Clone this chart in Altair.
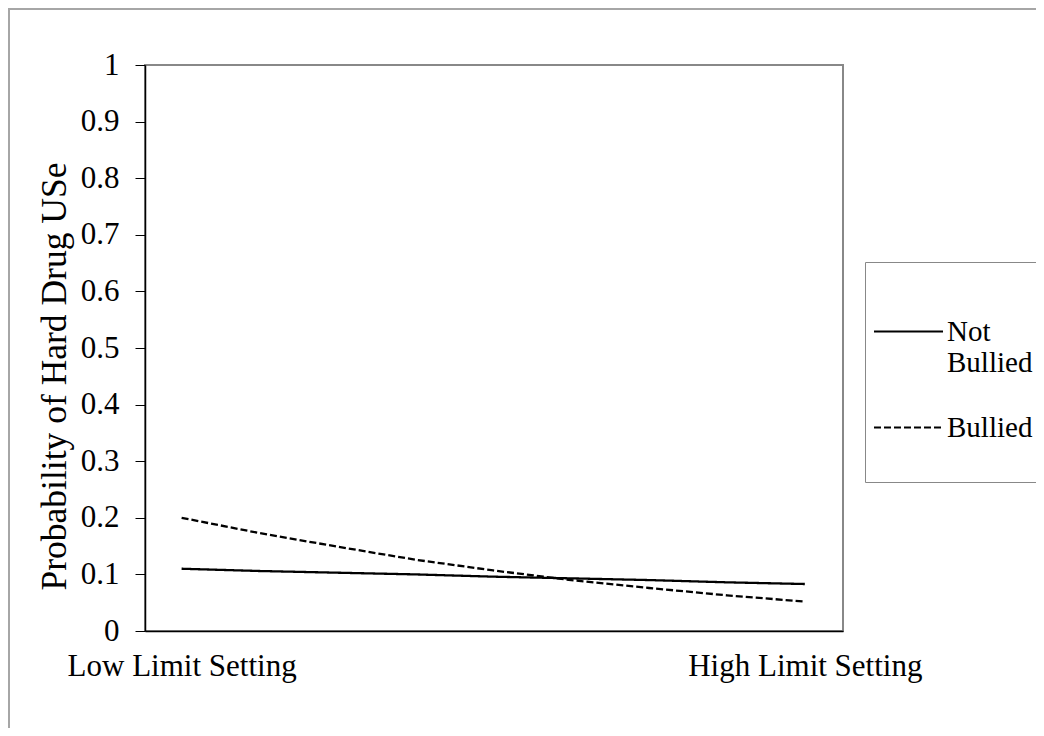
import altair as alt
import pandas as pd

# ---- data ----
steps = [0, 1, 2, 3, 4, 5, 6, 7, 8]
not_bullied = [0.110, 0.106, 0.103, 0.100, 0.096, 0.093, 0.090, 0.086, 0.083]
bullied = [0.200, 0.173, 0.149, 0.126, 0.107, 0.090, 0.076, 0.063, 0.052]
series_names = ["Not Bullied", "Bullied"]
x_labels = ["Low Limit Setting", "High Limit Setting"]
y_ticks = [0, 0.1, 0.2, 0.3, 0.4, 0.5, 0.6, 0.7, 0.8, 0.9, 1]
y_title = "Probability of Hard Drug USe"

rows = []
for name, vals in zip(series_names, [not_bullied, bullied]):
    for s, v in zip(steps, vals):
        rows.append({"step": s, "prob": v, "group": name})
df = pd.DataFrame(rows)

FONT = "Liberation Serif"
W, H = 698, 566

label_expr = (
    f"datum.value == {steps[0]} ? '{x_labels[0]}' : '{x_labels[1]}'"
)

lines = alt.Chart(df).mark_line(color="black", strokeWidth=2.3).encode(
    x=alt.X(
        "step:Q",
        scale=alt.Scale(domain=[-0.47, 8.49], nice=False, zero=False),
        axis=alt.Axis(
            values=[steps[0], steps[-1]],
            labelExpr=label_expr,
            title=None,
            ticks=False,
            grid=False,
            domainColor="black",
            domainWidth=1.5,
            labelFont=FONT,
            labelFontSize=31,
            labelColor="black",
            labelPadding=20,
            labelFlush=False,
            labelLimit=0,
            labelOverlap=False,
        ),
    ),
    y=alt.Y(
        "prob:Q",
        scale=alt.Scale(domain=[0, 1], nice=False),
        axis=alt.Axis(
            values=y_ticks,
            format=".1~f",
            title=y_title,
            grid=False,
            domainColor="black",
            domainWidth=1.5,
            tickColor="black",
            tickSize=10,
            tickWidth=1,
            labelFont=FONT,
            labelFontSize=31,
            labelColor="black",
            labelPadding=16,
            titleFont=FONT,
            titleFontSize=35.5,
            titleFontWeight="normal",
            titleColor="black",
            titleX=-80,
            titleY=311,
            titleAngle=270,
            titleAlign="center",
            titleBaseline="alphabetic",
        ),
    ),
    strokeDash=alt.StrokeDash(
        "group:N",
        scale=alt.Scale(domain=series_names, range=[[1, 0], [7, 3]]),
        legend=alt.Legend(
            title=" ",
            titleFontSize=18,
            titlePadding=8,
            orient="none",
            legendX=720,
            legendY=197,
            symbolType="stroke",
            symbolSize=4761,
            symbolStrokeWidth=2,
            symbolStrokeColor="black",
            labelFont=FONT,
            labelFontSize=29,
            labelColor="black",
            labelOffset=3,
            labelBaseline="middle",
            labelLimit=0,
            labelExpr="datum.label == 'Not Bullied' ? ['Not', 'Bullied'] : [datum.label, ' ']",
            strokeColor="#888888",
            fillColor="white",
            padding=8,
            rowPadding=14,
        ),
    ),
)

frame = alt.Data(values=[{"k": 1}])
top_line = alt.Chart(frame).mark_rule(color="#a6a6a6", strokeWidth=2).encode(
    x=alt.value(-137), x2=alt.value(1000), y=alt.value(-56)
)
left_line = alt.Chart(frame).mark_rule(color="#a6a6a6", strokeWidth=2).encode(
    x=alt.value(-136), y=alt.value(-57), y2=alt.value(900)
)

chart = alt.layer(top_line, left_line, lines).properties(
    width=W,
    height=H,
    autosize=alt.AutoSizeParams(type="none"),
    padding={"left": 137, "top": 57, "right": 193, "bottom": 97},
    background="white",
).configure_view(stroke="#888888", strokeWidth=2)

chart.save("out.html", embed_options={"renderer": "svg", "actions": False})
